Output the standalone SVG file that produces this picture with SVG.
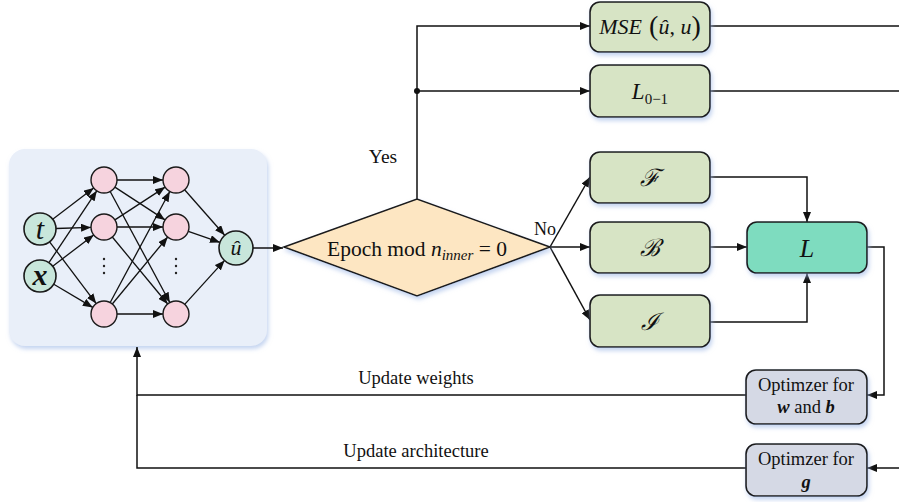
<svg xmlns="http://www.w3.org/2000/svg" width="899" height="502" viewBox="0 0 899 502">
<style>
text{font-family:"Liberation Serif","Times New Roman",serif;fill:#111;}
.ln{fill:none;stroke:#111;stroke-width:1.5;}
.la{fill:none;stroke:#111;stroke-width:1.5;marker-end:url(#ah);}
.nn{fill:none;stroke:#111;stroke-width:1.3;marker-end:url(#ahs);}
.box{fill:#d7e4c5;stroke:#1a1a1a;stroke-width:1.6;filter:url(#sh);}
.opt{fill:#d5d9e5;stroke:#1a1a1a;stroke-width:1.6;filter:url(#sh);}
.io{fill:#c8e6db;stroke:#1a1a1a;stroke-width:1.6;}
.hid{fill:#f6d3de;stroke:#1a1a1a;stroke-width:1.4;}
.it{font-style:italic;}
.cal{font-family:"DejaVu Serif","Liberation Serif",serif;font-style:italic;}
</style>
<defs>
<marker id="ah" markerWidth="10" markerHeight="8" refX="10" refY="4" orient="auto" markerUnits="userSpaceOnUse"><path d="M0,0 L10,4 L0,8 z" fill="#111"/></marker>
<marker id="ahs" markerWidth="10" markerHeight="8" refX="10" refY="4" orient="auto" markerUnits="userSpaceOnUse"><path d="M0,0 L10,4 L0,8 z" fill="#111"/></marker>
<filter id="sh" x="-20%" y="-20%" width="140%" height="150%"><feDropShadow dx="1.5" dy="3" stdDeviation="2" flood-color="#9db8e6" flood-opacity="0.6"/></filter>
</defs>

<g id="nn-panel">
<rect x="9" y="149" width="258" height="197" rx="16" fill="#e9eff9" filter="url(#sh)"/>
<g id="nn-edges">
<path class="nn" d="M52.7,219.3 L93.7,187.9"/>
<path class="nn" d="M56,228.5 L91,227.4"/>
<path class="nn" d="M49.6,241.8 L96.2,303.6"/>
<path class="nn" d="M48.9,262.7 L96.8,190.8"/>
<path class="nn" d="M52.7,266.3 L93.7,234.9"/>
<path class="nn" d="M53.8,284.2 L92.8,307.4"/>
<path class="nn" d="M117,180 L163,180"/>
<path class="nn" d="M114.9,187.1 L165.1,219.9"/>
<path class="nn" d="M110.2,191.5 L169.8,302.5"/>
<path class="nn" d="M114.9,219.9 L165.1,187.1"/>
<path class="nn" d="M117,227 L163,227"/>
<path class="nn" d="M112.3,237 L167.7,304"/>
<path class="nn" d="M110.2,302.5 L169.8,191.5"/>
<path class="nn" d="M112.3,304 L167.7,237"/>
<path class="nn" d="M117,314 L163,314"/>
<path class="nn" d="M184.6,189.7 L224.7,235.2"/>
<path class="nn" d="M188.3,231.3 L220,242.4"/>
<path class="nn" d="M184.7,304.4 L224.6,260.4"/>
</g>
<g id="n-t"><circle class="io" cx="40" cy="229" r="16"/><text class="it" x="40" y="239" font-size="30" text-anchor="middle">t</text></g>
<g id="n-x"><circle class="io" cx="40" cy="276" r="16"/><text class="it" x="40" y="285" font-size="30" font-weight="bold" text-anchor="middle">x</text></g>
<g id="n-a1"><circle class="hid" cx="104" cy="180" r="13"/></g>
<g id="n-a2"><circle class="hid" cx="104" cy="227" r="13"/></g>
<g id="n-a3"><circle class="hid" cx="104" cy="314" r="13"/></g>
<g id="n-b1"><circle class="hid" cx="176" cy="180" r="13"/></g>
<g id="n-b2"><circle class="hid" cx="176" cy="227" r="13"/></g>
<g id="n-b3"><circle class="hid" cx="176" cy="314" r="13"/></g>
<g id="dots" fill="#222">
<circle cx="104" cy="259" r="1.2"/><circle cx="104" cy="266" r="1.2"/><circle cx="104" cy="273" r="1.2"/>
<circle cx="176" cy="259" r="1.2"/><circle cx="176" cy="266" r="1.2"/><circle cx="176" cy="273" r="1.2"/>
</g>
<g id="n-u"><circle class="io" cx="236" cy="248" r="17"/><text class="it" x="236" y="255" font-size="22" text-anchor="middle">û</text></g>
</g>

<g id="connectors">
<path class="la" d="M253,248 H283"/>
<path class="la" d="M417,199 V26 H590"/>
<path class="la" d="M417,91 H590"/>
<circle cx="417" cy="91" r="3" fill="#111"/>
<path class="ln" d="M710,26 H899"/>
<path class="ln" d="M710,91 H899"/>
<path class="la" d="M550,247 L590,177"/>
<path class="la" d="M550,247 H590"/>
<path class="la" d="M550,247 L590,320"/>
<path class="la" d="M710,177 H807 V222"/>
<path class="la" d="M710,247 H747"/>
<path class="la" d="M710,322 H807 V273"/>
<path class="la" d="M867,247 H884 V395 H867"/>
<path class="la" d="M899,468 H867"/>
<path class="la" d="M746,395 H137 V347"/>
<path class="ln" d="M746,468 H137 V395"/>
<text x="383" y="163" font-size="19.5" text-anchor="middle">Yes</text>
<text x="545" y="235" font-size="18" text-anchor="middle">No</text>
<text x="416" y="384" font-size="18.5" text-anchor="middle">Update weights</text>
<text x="416" y="457" font-size="18.5" text-anchor="middle">Update architecture</text>
</g>

<g id="decision">
<polygon points="284,247 417,199 550,247 417,296" fill="#fde6c2" stroke="#1a1a1a" stroke-width="1.6" filter="url(#sh)"/>
<text x="417" y="256" font-size="21.5" text-anchor="middle">Epoch mod <tspan class="it">n</tspan><tspan class="it" font-size="15" dy="4">inner</tspan><tspan dy="-4"> = 0</tspan></text>
</g>

<g id="mse"><rect class="box" x="590" y="2" width="120" height="50" rx="10"/>
<text x="650" y="34" font-size="22" text-anchor="middle"><tspan class="it">MSE</tspan><tspan font-size="28" dy="1"> (</tspan><tspan class="it" dy="-1">û</tspan>, <tspan class="it">u</tspan><tspan font-size="28" dy="1">)</tspan></text></g>
<g id="l01"><rect class="box" x="590" y="65" width="120" height="52" rx="10"/>
<text x="650" y="99" font-size="23" text-anchor="middle"><tspan class="it">L</tspan><tspan font-size="15" dy="5">0−1</tspan></text></g>
<g id="f"><rect class="box" x="590" y="152" width="120" height="51" rx="10"/>
<text class="cal" x="650" y="186" font-size="24" text-anchor="middle">ℱ</text></g>
<g id="b"><rect class="box" x="590" y="222" width="120" height="51" rx="10"/>
<text class="cal" x="650" y="256" font-size="24" text-anchor="middle">ℬ</text></g>
<g id="i"><rect class="box" x="590" y="295" width="120" height="52" rx="10"/>
<text class="cal" x="650" y="330" font-size="24" text-anchor="middle">ℐ</text></g>
<g id="L"><rect x="747" y="222" width="120" height="51" rx="10" fill="#7edcbf" stroke="#1a1a1a" stroke-width="1.6" filter="url(#sh)"/>
<text class="it" x="807" y="257" font-size="26" text-anchor="middle">L</text></g>
<g id="opt-wb"><rect class="opt" x="746" y="370" width="121" height="54" rx="10"/>
<text x="806" y="391" font-size="18.5" text-anchor="middle">Optimzer for</text>
<text x="806" y="413" font-size="18.5" text-anchor="middle"><tspan class="it" font-weight="bold">w</tspan> and <tspan class="it" font-weight="bold">b</tspan></text></g>
<g id="opt-g"><rect class="opt" x="746" y="444" width="121" height="52" rx="10"/>
<text x="806" y="465" font-size="18.5" text-anchor="middle">Optimzer for</text>
<text class="it" x="806" y="488" font-size="18.5" font-weight="bold" text-anchor="middle">g</text></g>
</svg>
